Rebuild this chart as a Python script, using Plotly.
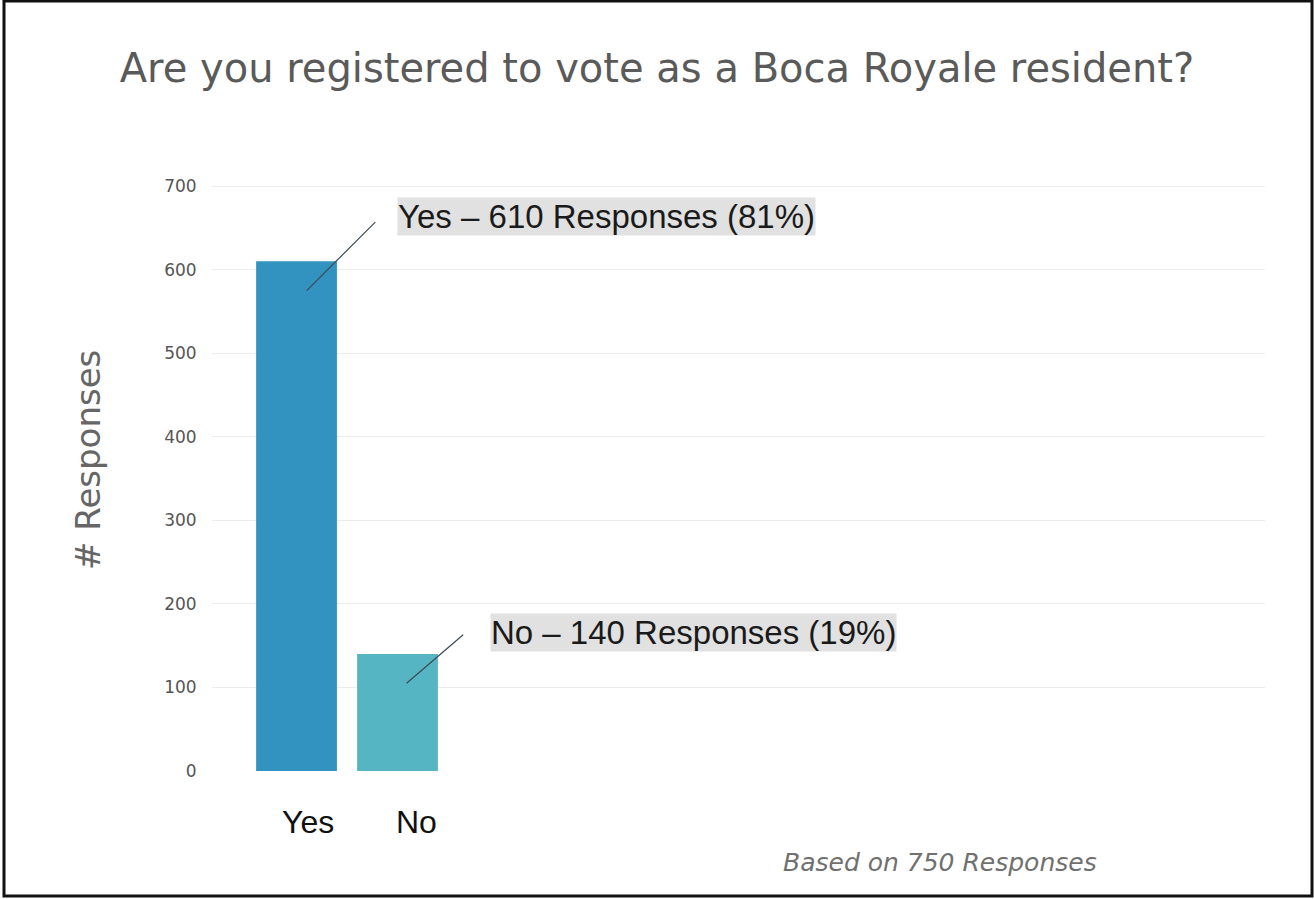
import plotly.graph_objects as go

# Survey results
categories = ["Yes", "No"]
responses = [610, 140]
percent = [81, 19]
total_responses = 750
bar_colors = ["#3393c0", "#55b5c2"]

title_text = "Are you registered to vote as a Boca Royale resident?"
y_title = "# Responses"
y_ticks = [0, 100, 200, 300, 400, 500, 600, 700]
footnote = f"Based on {total_responses} Responses"

W, H = 1314, 899
ML, MR, MT, MB = 212, 49, 182, 128
pw, ph = W - ML - MR, H - MT - MB

x_pos = list(range(len(categories)))

fig = go.Figure()
fig.add_trace(go.Bar(
    x=x_pos, y=responses, width=0.8,
    marker=dict(color=bar_colors, line=dict(width=0)),
    hoverinfo="skip", showlegend=False,
))

annotations = []
shapes = []

# callout placement relative to each bar: label left edge (x offset), label height above bar,
# leader line start below the bar top and end point
label_dx = [0.995, 0.916]
label_dy = [54, 26]
leader = [(0.10, -35, 0.78, 47), (0.09, -35, 0.65, 23)]

for i, (cat, val, pct) in enumerate(zip(categories, responses, percent)):
    annotations.append(dict(
        x=i + label_dx[i], y=val + label_dy[i], xref="x", yref="y",
        text=f"{cat} – {val} Responses ({pct}%)",
        showarrow=False, xanchor="left", yanchor="middle",
        font=dict(family="Liberation Sans, Arial", size=33, color="#1a1a1a"),
        bgcolor="#e1e1e1", borderpad=0,
    ))
    lx0, ly0, lx1, ly1 = leader[i]
    shapes.append(dict(
        type="line", xref="x", yref="y",
        x0=i + lx0, y0=val + ly0, x1=i + lx1, y1=val + ly1,
        line=dict(color="#3a4a55", width=1.2),
    ))
    # category label below the axis
    annotations.append(dict(
        x=i, y=0, xref="x", yref="paper", xshift=[11, 19][i], yshift=-51,
        text=cat, showarrow=False, yanchor="middle",
        font=dict(family="Liberation Sans, Arial", size=32, color="#111111"),
    ))

# vertical axis title
annotations.append(dict(
    x=(88 - ML) / pw, y=(MT + ph - 460) / ph, xref="paper", yref="paper",
    text=y_title, textangle=-90, showarrow=False,
    xanchor="center", yanchor="middle",
    font=dict(family="DejaVu Sans", size=34, color="#666666"),
))

annotations.append(dict(
    x=(940 - ML) / pw, y=0, xref="paper", yref="paper", yshift=-91,
    text=f"<i>{footnote}</i>", showarrow=False, xanchor="center", yanchor="middle",
    font=dict(family="DejaVu Sans", size=25, color="#707070"),
))

# outer frame
shapes.append(dict(
    type="rect", xref="paper", yref="paper",
    x0=(4 - ML) / pw, x1=(1312 - ML) / pw,
    y0=(MT + ph - 896) / ph, y1=(MT + ph - 1) / ph,
    line=dict(color="#111111", width=3), fillcolor="rgba(0,0,0,0)", layer="above",
))

fig.update_layout(
    width=W, height=H,
    margin=dict(l=ML, r=MR, t=MT, b=MB),
    paper_bgcolor="white", plot_bgcolor="white",
    title=dict(text=title_text, x=0.5, xref="container", xanchor="center",
               y=1 - 68 / H, yanchor="middle",
               font=dict(family="DejaVu Sans", size=40, color="#5a5a5a")),
    xaxis=dict(range=[-0.837, 9.59], showticklabels=False, showgrid=False,
               zeroline=False, showline=False, fixedrange=True),
    yaxis=dict(range=[0, 705], tickvals=y_ticks, showgrid=True, gridcolor="#ececec",
               gridwidth=1, zeroline=False, showline=False,
               ticks="outside", ticklen=11, tickcolor="rgba(0,0,0,0)",
               tickfont=dict(family="DejaVu Sans", size=17, color="#555555")),
    annotations=annotations, shapes=shapes,
    bargap=0.2,
)

fig.write_html("out.html")
